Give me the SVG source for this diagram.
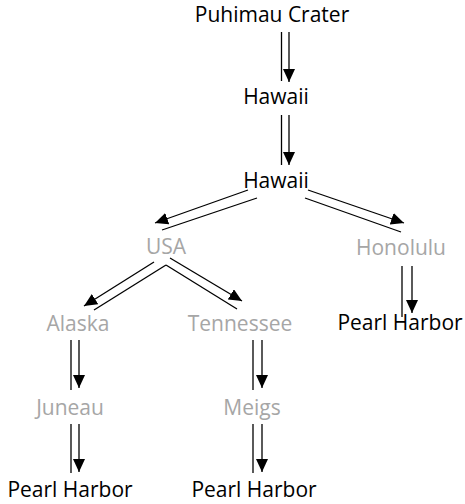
<svg xmlns="http://www.w3.org/2000/svg" width="465" height="504" viewBox="0 0 465 504">
<style>
text{font-family:"Open Sans","Noto Sans",sans-serif;font-size:21px;text-anchor:middle}
.k{fill:#000}
.g{fill:#a6a6a6}
line{stroke:#000;stroke-width:1.3}
</style>
<defs>
<marker id="ah" markerUnits="userSpaceOnUse" markerWidth="14" markerHeight="12" viewBox="0 0 14 12" refX="13" refY="6" orient="auto">
<path d="M0,0 L13,6 L0,12 Z" fill="#000"/>
</marker>
</defs>
<rect width="465" height="504" fill="#fff"/>
<g id="connectors">
<line x1="281.5" y1="32" x2="281.5" y2="81"/>
<line x1="289" y1="32" x2="289" y2="82" marker-end="url(#ah)"/>
<line x1="281.5" y1="115" x2="281.5" y2="165"/>
<line x1="289" y1="115" x2="289" y2="165" marker-end="url(#ah)"/>
<line x1="248" y1="190" x2="155" y2="223" marker-end="url(#ah)"/>
<line x1="257" y1="198" x2="162" y2="230"/>
<line x1="308" y1="190" x2="404" y2="223" marker-end="url(#ah)"/>
<line x1="305" y1="198" x2="401" y2="232"/>
<line x1="154" y1="262" x2="84" y2="306" marker-end="url(#ah)"/>
<line x1="166" y1="265" x2="94" y2="310"/>
<line x1="170" y1="258" x2="242" y2="301" marker-end="url(#ah)"/>
<line x1="166" y1="265" x2="237" y2="309"/>
<line x1="402" y1="266" x2="402" y2="317"/>
<line x1="412" y1="266" x2="412" y2="313" marker-end="url(#ah)"/>
<line x1="71" y1="340" x2="71" y2="390"/>
<line x1="79" y1="340" x2="79" y2="388" marker-end="url(#ah)"/>
<line x1="71" y1="424" x2="71" y2="473"/>
<line x1="79" y1="424" x2="79" y2="472" marker-end="url(#ah)"/>
<line x1="253" y1="340" x2="253" y2="390"/>
<line x1="262" y1="340" x2="262" y2="388" marker-end="url(#ah)"/>
<line x1="253" y1="424" x2="253" y2="473"/>
<line x1="262" y1="424" x2="262" y2="472" marker-end="url(#ah)"/>
</g>
<g id="n-puhimau"><text class="k" x="272" y="22">Puhimau Crater</text></g>
<g id="n-hawaii1"><text class="k" x="276" y="104">Hawaii</text></g>
<g id="n-hawaii2"><text class="k" x="276" y="188">Hawaii</text></g>
<g id="n-usa"><text class="g" x="166" y="254">USA</text></g>
<g id="n-honolulu"><text class="g" x="401" y="255">Honolulu</text></g>
<g id="n-alaska"><text class="g" x="78" y="331">Alaska</text></g>
<g id="n-tennessee"><text class="g" x="240" y="331">Tennessee</text></g>
<g id="n-pearl1"><text class="k" x="400" y="330">Pearl Harbor</text></g>
<g id="n-juneau"><text class="g" x="70" y="415">Juneau</text></g>
<g id="n-meigs"><text class="g" x="252" y="415">Meigs</text></g>
<g id="n-pearl2"><text class="k" x="70" y="497">Pearl Harbor</text></g>
<g id="n-pearl3"><text class="k" x="254" y="497">Pearl Harbor</text></g>
</svg>
